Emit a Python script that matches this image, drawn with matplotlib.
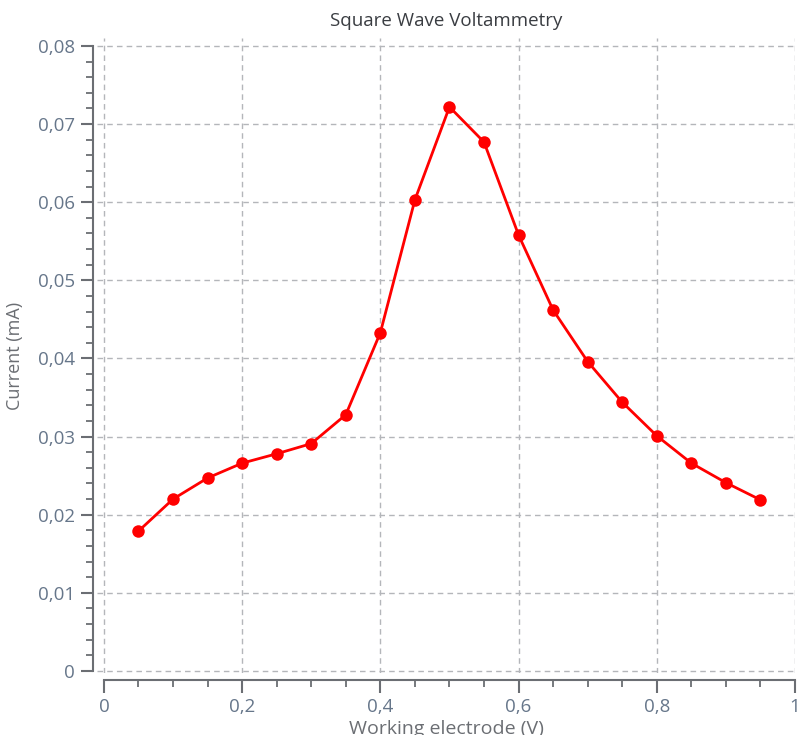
import matplotlib.pyplot as plt
from matplotlib.ticker import MultipleLocator, FuncFormatter

plt.rcParams['font.family'] = ['Open Sans', 'DejaVu Sans']

# working electrode potential (V) and measured current (mA)
potential = [0.05, 0.10, 0.15, 0.20, 0.25, 0.30, 0.35, 0.40, 0.45, 0.50,
             0.55, 0.60, 0.65, 0.70, 0.75, 0.80, 0.85, 0.90, 0.95]
current = [0.0179, 0.0220, 0.0247, 0.0266, 0.0278, 0.0291, 0.0328, 0.0433, 0.0603, 0.0722,
           0.0677, 0.0558, 0.0462, 0.0396, 0.0344, 0.0301, 0.0266, 0.0241, 0.0219]

x_ticks = [0, 0.2, 0.4, 0.6, 0.8, 1]
y_ticks = [0, 0.01, 0.02, 0.03, 0.04, 0.05, 0.06, 0.07, 0.08]

tick_col = '#66768a'
axis_col = '#6b6e73'
grid_col = '#b4b6ba'


def comma_fmt(v, pos):
    s = ('%.2f' % v).rstrip('0').rstrip('.')
    return s.replace('.', ',')


fig = plt.figure(figsize=(7.97, 7.35), dpi=100)
ax = fig.add_axes([97 / 797, 62 / 735, 698 / 797, 635 / 735])

ax.plot(potential, current, color='#ff0000', lw=2.0, marker='o', ms=9,
        markeredgewidth=0, zorder=3)

ax.set_xlim(-0.01, 1.0)
ax.set_ylim(-0.00026, 0.08102)
ax.set_xticks(x_ticks)
ax.set_yticks(y_ticks)
ax.xaxis.set_minor_locator(MultipleLocator(0.05))
ax.yaxis.set_minor_locator(MultipleLocator(0.002))
ax.xaxis.set_major_formatter(FuncFormatter(comma_fmt))
ax.yaxis.set_major_formatter(FuncFormatter(comma_fmt))

ax.grid(True, which='major', color=grid_col, ls=(0, (4, 3)), lw=1.0)

for side in ('top', 'right'):
    ax.spines[side].set_visible(False)
ax.spines['left'].set_position(('outward', 3))
ax.spines['bottom'].set_position(('outward', 5))
ax.spines['left'].set_bounds(0, 0.08)
ax.spines['bottom'].set_bounds(0, 1)
for side in ('left', 'bottom'):
    ax.spines[side].set_color(axis_col)
    ax.spines[side].set_linewidth(1.5)

ax.tick_params(which='major', length=9, width=1.5, color=axis_col,
               labelcolor=tick_col, labelsize=13.5, pad=4)
ax.tick_params(which='minor', length=5, width=1.3, color=axis_col)

ax.set_title('Square Wave Voltammetry', fontsize=13.5, color='#3a3d42', pad=9)
ax.set_xlabel('Working electrode (V)', fontsize=14, color='#6b6e73', labelpad=3)
ax.set_ylabel('Current (mA)', fontsize=13, color='#6b6e73', labelpad=10)

fig.savefig('out.png', dpi=100)
